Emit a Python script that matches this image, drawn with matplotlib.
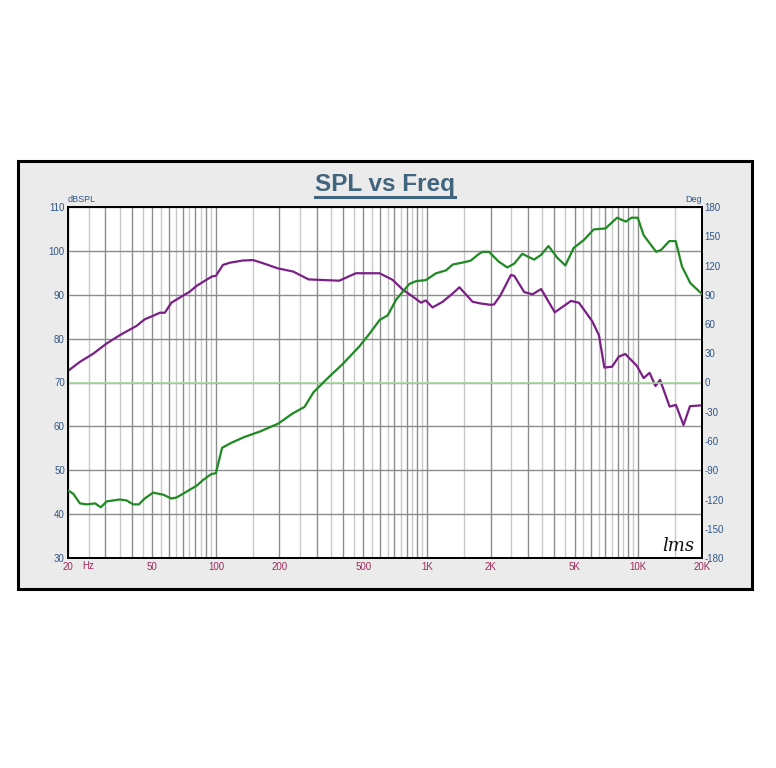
import numpy as np
import matplotlib
matplotlib.use("Agg")
from matplotlib import pyplot as plt
from matplotlib.patches import Rectangle
from matplotlib.lines import Line2D
from matplotlib.ticker import FixedLocator, FuncFormatter, NullFormatter

# purple trace, dBSPL on the left axis
spl_freq = [20, 22.7, 26.3, 30.4, 35.1, 42.1, 46, 50.4, 54.3, 57.3, 61.6, 68.8, 75.2,
            80.9, 90.2, 96, 100, 108, 116.5, 134, 150, 167, 197, 232, 275, 384, 460,
            596, 687, 766, 855, 936, 987, 1062, 1186, 1324, 1424, 1644, 1801, 2008,
            2079, 2230, 2497, 2590, 2888, 3162, 3472, 4028, 4812, 5092, 5240, 6054,
            6520, 6920, 7520, 8100, 8690, 9860, 10620, 11330, 12080, 12700, 14100,
            15100, 16400, 17600, 20000]
spl_db = [72.7, 74.7, 76.6, 78.9, 80.8, 82.9, 84.4, 85.2, 85.9, 85.9, 88.2, 89.6, 90.7,
          92.0, 93.4, 94.2, 94.3, 96.8, 97.3, 97.8, 97.9, 97.2, 96.0, 95.3, 93.5, 93.2, 94.9,
          94.9, 93.4, 91.2, 89.6, 88.2, 88.7, 87.1, 88.4, 90.3, 91.7, 88.4, 88.0, 87.7,
          87.8, 89.9, 94.5, 94.3, 90.6, 90.1, 91.3, 86.0, 88.6, 88.3, 88.2, 84.0,
          80.8, 73.4, 73.6, 75.9, 76.5, 73.8, 71.0, 72.2, 69.2, 70.6, 64.5,
          64.9, 60.3, 64.6, 64.8]

# green trace, degrees on the right axis
phase_freq = [20, 21.1, 22.7, 24.5, 26.8, 28.5, 30.4, 32.6, 35.1, 37.8, 40.6, 43.2, 46,
              50.4, 56.2, 61.6, 65, 70, 75.2, 80.9, 87, 95, 100, 107, 118, 136, 163, 198,
              230, 263, 290, 333, 399, 478, 534, 596, 652, 714, 824, 888, 987, 1102,
              1230, 1324, 1474, 1610, 1765, 1832, 1972, 2008, 2186, 2400, 2590, 2826,
              3216, 3472, 3760, 4140, 4520, 4950, 5520, 6160, 7000, 7950, 8740, 9300,
              9960, 10620, 12180, 12850, 14040, 15070, 16130, 17660, 20000]
phase_deg = [-111, -114, -124, -125, -124, -128, -122, -121, -120, -121, -125, -125, -119,
             -113, -115, -119, -118, -114, -110, -106, -100, -94, -93, -67, -62, -56, -50, -42,
             -32, -25, -10, 3, 19, 37, 50, 64, 69, 85, 101, 104, 105, 112,
             115, 121, 123, 125, 132, 134, 134, 132, 124, 118, 122, 132,
             126, 131, 140, 128, 120, 138, 146, 157, 158, 169, 165, 169,
             169, 151, 134, 136, 145, 145, 119, 102, 91]

db_ticks = [30, 40, 50, 60, 70, 80, 90, 100, 110]
deg_ticks = [-180, -150, -120, -90, -60, -30, 0, 30, 60, 90, 120, 150, 180]
freq_labels = {20: "20", 50: "50", 100: "100", 200: "200", 500: "500", 1000: "1K",
               2000: "2K", 5000: "5K", 10000: "10K", 20000: "20K"}

# grid: darker lines on 1,2..9 x decade, lighter on the halves
dark_lines = [m * 10 ** k for k in range(1, 5) for m in range(1, 10) if 20 <= m * 10 ** k <= 20000]
light_lines = [(m + 0.5) * 10 ** k for k in range(1, 5) for m in range(1, 10) if 20 < (m + 0.5) * 10 ** k < 20000]

plt.rcParams['font.family'] = ['Liberation Sans', 'DejaVu Sans']
W, H = 776, 768
blue = '#2f5687'
maroon = '#9e2a5c'

fig = plt.figure(figsize=(W / 100, H / 100), dpi=100)
fig.patches.append(Rectangle((18 / W, 1 - 589 / H), (752 - 18) / W, (589 - 161) / H,
                             transform=fig.transFigure, facecolor='#ebebeb',
                             edgecolor='black', lw=2.2, zorder=-5))

ax = fig.add_axes([68.3 / W, 1 - 558 / H, 633.4 / W, 351 / H])
ax.set_facecolor('white')
ax.set_xscale('log')
ax.set_xlim(20, 20000)
ax.set_ylim(30, 110)

ax.xaxis.set_major_locator(FixedLocator(dark_lines))
ax.xaxis.set_major_formatter(FuncFormatter(lambda v, p: freq_labels.get(int(round(v)), "")))
ax.xaxis.set_minor_locator(FixedLocator(light_lines))
ax.xaxis.set_minor_formatter(NullFormatter())
ax.set_yticks(db_ticks)
ax.set_yticklabels([str(v) for v in db_ticks])
ax.grid(which='major', color='#8c8c8c', lw=1.0)
ax.grid(which='minor', axis='x', color='#c8c8c8', lw=1.0)
ax.set_axisbelow(True)
ax.tick_params(which='both', length=0)
ax.tick_params(axis='x', colors=maroon, labelsize=7, pad=3)
ax.tick_params(axis='y', colors=blue, labelsize=7, pad=2.5)
for s in ax.spines.values():
    s.set_color('black')
    s.set_linewidth(1.3)

ax.plot(spl_freq, spl_db, color='#7a1f86', lw=1.6, zorder=3)
ax.annotate("Hz", xy=(20, 30), xytext=(13.5, -8), textcoords='offset pixels',
            ha='left', va='center', color=maroon, fontsize=7)

ax2 = ax.twinx()
ax2.set_ylim(-180, 180)
ax2.set_yticks(deg_ticks)
ax2.set_yticklabels([str(v) for v in deg_ticks])
ax2.tick_params(length=0, colors=blue, labelsize=7, pad=2)
for s in ax2.spines.values():
    s.set_color('black')
    s.set_linewidth(1.3)
ax2.axhline(0, color='#a8d8a0', lw=1.2, zorder=1)
ax2.plot(phase_freq, phase_deg, color='#1f8a22', lw=1.6, zorder=3)

ax2.text(0.988, 0.02, "lms", transform=ax.transAxes, ha='right', va='baseline',
         fontstyle='italic', fontsize=13, family='DejaVu Serif', color='#111111')

fig.text(68 / W, 1 - 200 / H, "dBSPL", ha='left', va='center', color=blue, fontsize=6.5)
fig.text(702 / W, 1 - 200 / H, "Deg", ha='right', va='center', color=blue, fontsize=6.5)

title = fig.text(385 / W, 1 - 185 / H, "SPL vs Freq", ha='center', va='center',
                 fontsize=17.5, fontweight='bold', color='#41657f')
fig.canvas.draw()
bb = title.get_window_extent(fig.canvas.get_renderer()).transformed(fig.transFigure.inverted())
fig.lines.append(Line2D([bb.x0, bb.x1], [1 - 197 / H, 1 - 197 / H], transform=fig.transFigure,
                        color='#41657f', lw=2.2))

fig.savefig('out.png', dpi=100)
